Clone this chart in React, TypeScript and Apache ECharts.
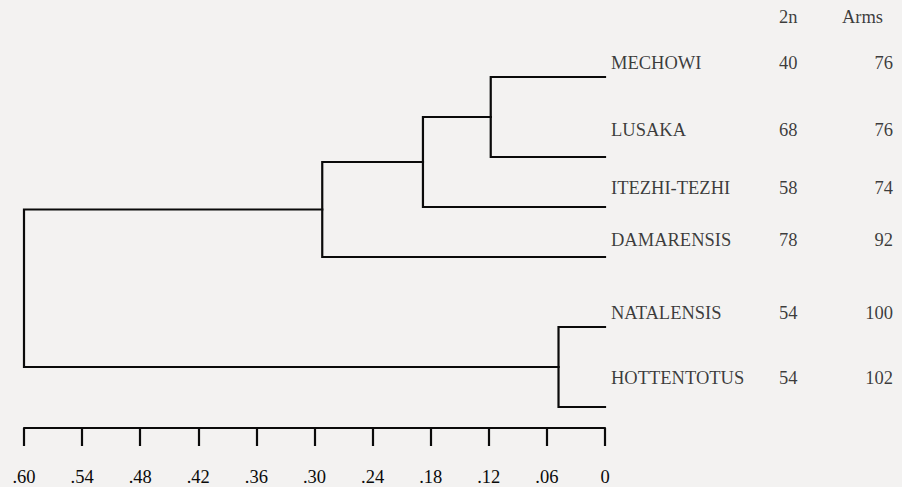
import React, { useEffect, useRef } from "react";
import * as echarts from "echarts";

// ---- data ----
const leaves = ["MECHOWI", "LUSAKA", "ITEZHI-TEZHI", "DAMARENSIS", "NATALENSIS", "HOTTENTOTUS"];
// vertical order of the leaves (rows of the dendrogram)
const leafRow = [0, 8, 13, 18, 25, 33];
// linkage: [childA, childB, distance]; node ids 0..5 are leaves, 6.. are merges
const merges: [number, number, number][] = [
  [0, 1, 0.118],
  [6, 2, 0.188],
  [7, 3, 0.292],
  [4, 5, 0.048],
  [8, 9, 0.6],
];
const diploid = [40, 68, 58, 78, 54, 54];
const arms = [76, 76, 74, 92, 100, 102];
const tableRow = [-1.4, 5.3, 11.1, 16.3, 23.6, 30.1];
const headerRow = -6;
const headers = ["2n", "Arms"];

const FONT = "'Liberation Serif', 'Times New Roman', serif";
const INK = "#0a0a0a";

export default function App() {
  const ref = useRef<HTMLDivElement>(null);
  useEffect(() => {
    if (!ref.current) return;
    const chart = echarts.init(ref.current, null, { renderer: "svg" });

    const nodes: { h: number; y: number }[] = leafRow.map((r) => ({ h: 0, y: r }));
    merges.forEach(([a, b, d]) => {
      nodes.push({ h: d, y: (nodes[a].y + nodes[b].y) / 2 });
    });

    const bracketSeries = merges.map(([a, b, d], i) => ({
      type: "line",
      name: "m" + i,
      data: [
        [nodes[a].h, nodes[a].y],
        [d, nodes[a].y],
        [d, nodes[b].y],
        [nodes[b].h, nodes[b].y],
      ],
      symbol: "none",
      lineStyle: { color: INK, width: 2.2, join: "miter", cap: "square" },
      silent: true,
      z: 3,
    }));

    const textSeries = (
      vals: (string | number)[],
      rows: number[],
      dx: number,
      align: "left" | "right"
    ) => ({
      type: "scatter",
      symbolSize: 0,
      clip: false,
      silent: true,
      data: rows.map((r) => [0, r]),
      label: {
        show: true,
        position: [dx, 0],
        align,
        verticalAlign: "middle",
        formatter: (p: any) => String(vals[p.dataIndex]),
        fontFamily: FONT,
        fontSize: 18.5,
        color: INK,
      },
    });

    chart.setOption({
      animation: false,
      backgroundColor: "#f3f2f1",
      grid: { left: 24, right: 297, top: 77, height: 351, containLabel: false },
      xAxis: {
        type: "value",
        min: 0,
        max: 0.6,
        interval: 0.06,
        inverse: true,
        position: "bottom",
        splitLine: { show: false },
        axisLine: { show: true, onZero: false, lineStyle: { color: INK, width: 2.2 } },
        axisTick: { show: true, length: 18, lineStyle: { color: INK, width: 2.2 } },
        axisLabel: {
          margin: 39,
          fontFamily: FONT,
          fontSize: 18.5,
          color: INK,
          showMinLabel: true,
          showMaxLabel: true,
          formatter: (v: number) => (Math.abs(v) < 1e-9 ? "0" : v.toFixed(2).replace(/^0/, "")),
        },
      },
      yAxis: { type: "value", min: 0, max: 35.1, inverse: true, show: false },
      series: [
        ...bracketSeries,
        textSeries(leaves, tableRow, 6, "left"),
        textSeries(diploid, tableRow, 174, "left"),
        textSeries(arms, tableRow, 288, "right"),
        textSeries([headers[0]], [headerRow], 174, "left"),
        textSeries([headers[1]], [headerRow], 278, "right"),
      ],
    });
    return () => chart.dispose();
  }, []);
  return (
    <div
      ref={ref}
      style={{ position: "fixed", left: 0, top: 0, width: 902, height: 487 }}
    />
  );
}
